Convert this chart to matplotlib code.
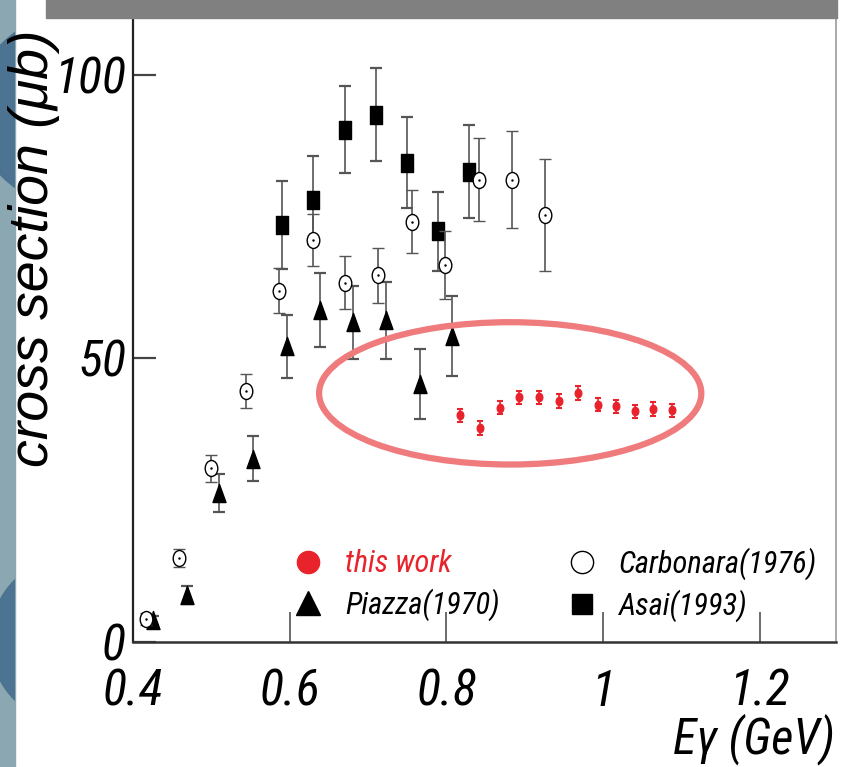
import matplotlib
matplotlib.use("Agg")
from matplotlib import pyplot as plt
from matplotlib import font_manager
from matplotlib.path import Path
from matplotlib.patches import Ellipse, Rectangle, Circle
from matplotlib.lines import Line2D
from matplotlib.transforms import Affine2D
import numpy as np

# this work
work_E = [0.817, 0.843, 0.868, 0.893, 0.918, 0.943, 0.968, 0.993, 1.016, 1.040, 1.064, 1.088]
work_xs = [39.9, 37.7, 41.3, 43.1, 43.1, 42.4, 43.9, 41.8, 41.5, 40.6, 41.0, 40.8]
work_err = [1.2, 1.2, 1.2, 1.2, 1.2, 1.2, 1.2, 1.2, 1.2, 1.2, 1.2, 1.2]

# Carbonara (1976)
carb_E = [0.416, 0.459, 0.499, 0.544, 0.586, 0.630, 0.671, 0.713, 0.756, 0.798, 0.841, 0.884, 0.926]
carb_xs = [4.0, 14.8, 30.6, 44.3, 61.9, 70.9, 63.3, 64.6, 74.1, 66.5, 81.5, 81.5, 75.2]
carb_err = [1.0, 1.6, 2.4, 3.0, 4.0, 4.6, 4.7, 4.9, 5.6, 6.0, 7.3, 8.5, 9.9]

# Piazza (1970)
piaz_E = [0.426, 0.469, 0.510, 0.553, 0.596, 0.638, 0.681, 0.723, 0.766, 0.807]
piaz_xs = [3.8, 8.2, 26.2, 32.3, 52.1, 58.5, 56.3, 56.7, 45.5, 53.9]
piaz_err = [0.8, 1.6, 3.4, 4.0, 5.6, 6.6, 6.5, 6.8, 6.2, 7.0]

# Asai (1993)
asai_E = [0.590, 0.630, 0.670, 0.710, 0.749, 0.789, 0.829]
asai_xs = [73.5, 77.9, 90.3, 92.9, 84.5, 72.4, 82.9]
asai_err = [7.8, 7.7, 7.7, 8.2, 8.0, 7.0, 8.2]

x_ticks = [0.4, 0.6, 0.8, 1.0, 1.2]
x_ticklabels = ['0.4', '0.6', '0.8', '1', '1.2']
y_ticks = [0, 50, 100]

RED = '#e8232b'

# narrow italic sans for the labels, first one that is installed
italic_fams = {f.name for f in font_manager.fontManager.ttflist if f.style in ('italic', 'oblique')}
NARROW = 'Liberation Sans'
for cand in ['Liberation Sans Narrow', 'Arial Narrow', 'Nimbus Sans Narrow', 'Roboto Condensed',
             'IBM Plex Sans Condensed', 'Archivo Narrow', 'Fira Sans Condensed', 'PT Sans Narrow']:
    if cand in italic_fams:
        NARROW = cand
        break
WIDE = 'Liberation Sans'

# slightly tall markers (plot was squeezed horizontally)
def tall(path, ratio):
    return Affine2D().scale(ratio, 1.0).transform_path(path)

circ = tall(Path.unit_circle(), 0.79)
square = Path([(-0.36, -0.5), (0.36, -0.5), (0.36, 0.5), (-0.36, 0.5), (-0.36, -0.5)],
              [Path.MOVETO, Path.LINETO, Path.LINETO, Path.LINETO, Path.CLOSEPOLY])
tri = Path([(-0.36, -0.5), (0.36, -0.5), (0.0, 0.5), (-0.36, -0.5)],
           [Path.MOVETO, Path.LINETO, Path.LINETO, Path.CLOSEPOLY])

W, H = 841, 767
fig = plt.figure(figsize=(W / 100, H / 100), dpi=100)

# slide background pieces
px = Affine2D().scale(1 / W, -1 / H).translate(0, 1) + fig.transFigure
strip = Rectangle((0, 0), 15, H, transform=px, color='#8ba7b2', zorder=0)
fig.patches.append(strip)
for cx, cy, r in [(70, 110, 95), (75, 640, 85)]:
    blob = Circle((cx, cy), r, transform=px, color='#4d7393', zorder=1)
    blob.set_clip_path(strip)
    fig.patches.append(blob)
fig.patches.append(Rectangle((46, 0), 791, 18, transform=px, color='#808080', zorder=3))

ax = fig.add_axes([133 / W, 1 - 641.7 / H, (836 - 133) / W, (641.7 - 18) / H])
ax.set_xlim(0.4, 1.297)
ax.set_ylim(0, 110)

ebar = dict(ls='none', ecolor='#555555', elinewidth=1.2, capsize=4.3, capthick=1.6)
ax.errorbar(asai_E, asai_xs, yerr=asai_err, marker=square, ms=12.7,
            mfc='black', mec='black', zorder=3, **ebar)
ax.errorbar(carb_E, carb_xs, yerr=carb_err, marker=circ, ms=11.5,
            mfc='white', mec='black', mew=1.0, zorder=4, **ebar)
ax.plot(carb_E, carb_xs, ls='none', marker='.', ms=1.5, color='black', zorder=5)
ax.errorbar(piaz_E, piaz_xs, yerr=piaz_err, marker=tri, ms=13,
            mfc='black', mec='black', zorder=3, **ebar)
ax.errorbar(work_E, work_xs, yerr=work_err, marker=circ, ms=6, ls='none',
            mfc=RED, mec=RED, ecolor=RED, elinewidth=1.2, capsize=2.5, capthick=1.5, zorder=6)

# highlight around the new measurement
ax.add_patch(Ellipse((0.8813, 43.8), 0.4877, 25.1, fill=False, ec='#ef7b7d',
                     lw=4.5, clip_on=False, zorder=7))

ax.set_xticks(x_ticks)
ax.set_xticklabels(x_ticklabels)
ax.set_yticks(y_ticks)
ax.tick_params(axis='x', direction='in', length=21.6, width=1.1, color='#444444',
               pad=19, labelsize=36)
ax.tick_params(axis='y', direction='in', length=16.5, width=1.6, color='#444444',
               pad=5, labelsize=36)
for lab in ax.get_xticklabels() + ax.get_yticklabels():
    lab.set_family(NARROW)
    lab.set_style('italic')

ax.spines['top'].set_visible(False)
ax.spines['left'].set_color('#222222')
ax.spines['left'].set_linewidth(1.6)
ax.spines['bottom'].set_color('#333333')
ax.spines['bottom'].set_linewidth(1.8)
ax.spines['right'].set_color('#999999')
ax.spines['right'].set_linewidth(1.2)

handles = [
    Line2D([], [], ls='none', marker='o', ms=16, mfc=RED, mec=RED),
    Line2D([], [], ls='none', marker='^', ms=17, mfc='black', mec='black'),
    Line2D([], [], ls='none', marker='o', ms=16, mfc='white', mec='black', mew=1.0),
    Line2D([], [], ls='none', marker='s', ms=15, mfc='black', mec='black'),
]
labels = ['this work', 'Piazza(1970)', 'Carbonara(1976)', 'Asai(1993)']
leg = ax.legend(handles, labels, ncol=2, frameon=False, loc='upper left',
                bbox_to_anchor=((296 - 133) / 703, (641.7 - 547) / 623.7),
                borderpad=0, borderaxespad=0, handlelength=0.8, handletextpad=0.8,
                columnspacing=2.3, labelspacing=0.32,
                prop=dict(family=NARROW, style='italic', size=22))
leg.get_texts()[0].set_color(RED)

fig.text(34 / W, 1 - 248 / H, 'cross section (\u03bcb)', rotation=90, ha='center', va='center',
         fontsize=40, family=WIDE, style='italic')
fig.text(835 / W, 1 - 739 / H, 'E\u03b3 (GeV)', ha='right', va='center',
         fontsize=35, family=NARROW, style='italic')

fig.savefig('out.png', dpi=100)
